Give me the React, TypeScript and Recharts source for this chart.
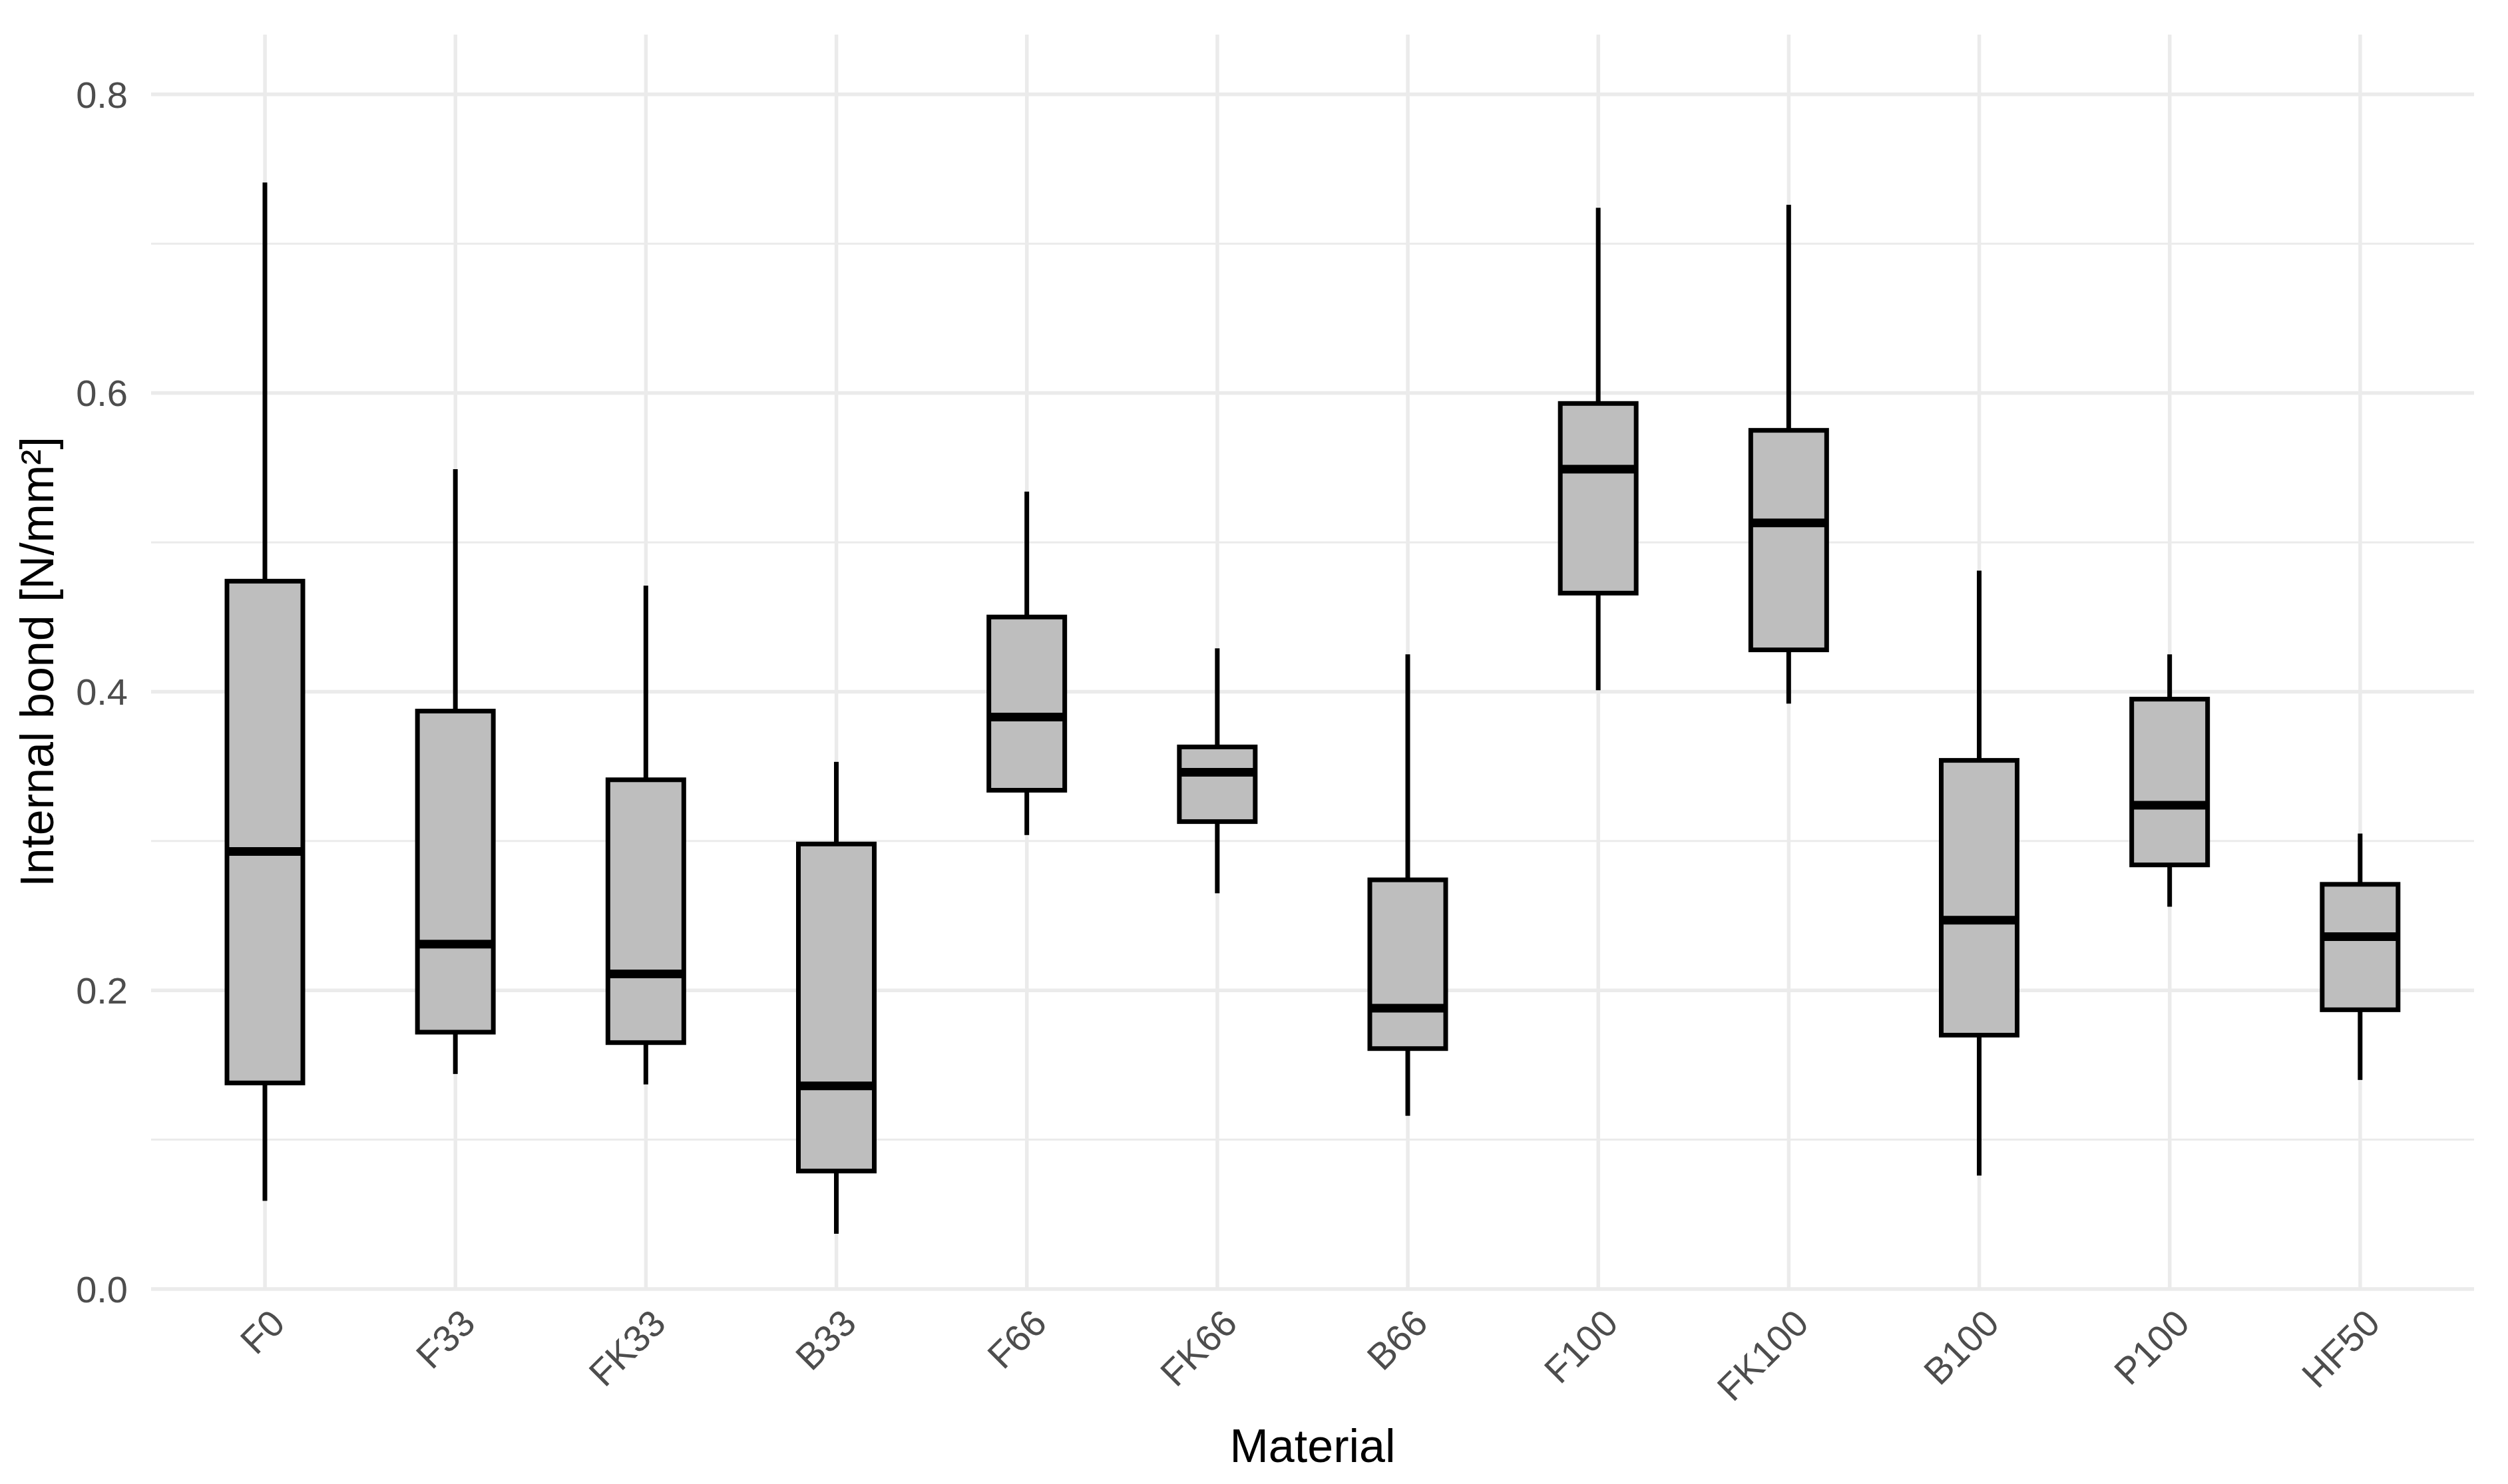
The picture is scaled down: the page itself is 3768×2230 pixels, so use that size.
import React from 'react';
import { ComposedChart, Bar, XAxis, YAxis, CartesianGrid, Label } from 'recharts';

const materials = ['F0', 'F33', 'FK33', 'B33', 'F66', 'FK66', 'B66', 'F100', 'FK100', 'B100', 'P100', 'HF50'];
const whiskerLow = [0.059, 0.144, 0.137, 0.037, 0.304, 0.265, 0.116, 0.401, 0.392, 0.076, 0.256, 0.140];
const q1 = [0.138, 0.172, 0.165, 0.079, 0.334, 0.313, 0.161, 0.466, 0.428, 0.170, 0.284, 0.187];
const median = [0.293, 0.231, 0.211, 0.136, 0.383, 0.346, 0.188, 0.549, 0.513, 0.247, 0.324, 0.236];
const q3 = [0.474, 0.387, 0.341, 0.298, 0.450, 0.363, 0.274, 0.593, 0.575, 0.354, 0.395, 0.271];
const whiskerHigh = [0.741, 0.549, 0.471, 0.353, 0.534, 0.429, 0.425, 0.724, 0.726, 0.481, 0.425, 0.305];
const yTicks = [0, 0.2, 0.4, 0.6, 0.8];
const minorTicks = [0.1, 0.3, 0.5, 0.7];

const data = materials.map((m, i) => ({
  material: m,
  low: whiskerLow[i],
  q1: q1[i],
  median: median[i],
  q3: q3[i],
  high: whiskerHigh[i],
  range: [whiskerLow[i], whiskerHigh[i]],
}));

const FONT = '"Liberation Sans", Arial, Helvetica, sans-serif';

const BoxShape = (props: any) => {
  const { x, y, width, height, payload } = props;
  if (x == null || y == null) return null;
  const top = Math.min(y, y + height);
  const bottom = Math.max(y, y + height);
  const span = payload.high - payload.low;
  const py = (v: number) => bottom - ((v - payload.low) / span) * (bottom - top);
  const cx = x + width / 2;
  const yq3 = py(payload.q3);
  const yq1 = py(payload.q1);
  const ymed = py(payload.median);
  return (
    <g>
      <line x1={cx} x2={cx} y1={top} y2={yq3} stroke="#000" strokeWidth={7} />
      <line x1={cx} x2={cx} y1={yq1} y2={bottom} stroke="#000" strokeWidth={7} />
      <rect x={x} y={yq3} width={width} height={yq1 - yq3} fill="#BEBEBE" stroke="#000" strokeWidth={7} />
      <line x1={x} x2={x + width} y1={ymed} y2={ymed} stroke="#000" strokeWidth={13} />
    </g>
  );
};

const XTick = (props: any) => {
  const { x, y, payload } = props;
  return (
    <text
      x={0}
      y={0}
      transform={`translate(${x + 4},${y + 18}) rotate(-45)`}
      textAnchor="end"
      dominantBaseline="hanging"
      fontSize={56}
      fill="#4D4D4D"
      fontFamily={FONT}
    >
      {payload.value}
    </text>
  );
};

const YTitle = (props: any) => {
  const vb = props.viewBox || { x: 0, y: 0, width: 0, height: 0 };
  const cx = vb.x + 80;
  const cy = vb.y + vb.height / 2;
  return (
    <text x={cx} y={cy} transform={`rotate(-90, ${cx}, ${cy})`} textAnchor="middle" fontSize={70} fill="#000" fontFamily={FONT}>
      Internal bond [N/mm²]
    </text>
  );
};

const XTitle = (props: any) => {
  const vb = props.viewBox || { x: 0, y: 0, width: 0, height: 0 };
  return (
    <text x={vb.x + vb.width / 2} y={vb.y + 260} textAnchor="middle" fontSize={70} fill="#000" fontFamily={FONT}>
      Material
    </text>
  );
};

export default function App() {
  return (
    <div style={{ position: 'absolute', left: 0, top: 0, width: 3768, height: 2230, background: '#fff' }}>
      <ComposedChart width={3768} height={2230} data={data} margin={{ top: 52, right: 51, bottom: 0, left: 0 }}>
        <CartesianGrid stroke="#EBEBEB" strokeWidth={3} vertical={false} horizontalValues={minorTicks} syncWithTicks />
        <CartesianGrid stroke="#EBEBEB" strokeWidth={5.5} syncWithTicks />
        <XAxis
          dataKey="material"
          type="category"
          axisLine={false}
          tickLine={false}
          height={293}
          padding={{ left: 28, right: 28 }}
          tick={<XTick />}
          interval={0}
        >
          <Label content={<XTitle />} />
        </XAxis>
        <YAxis
          type="number"
          domain={[0, 0.84]}
          ticks={yTicks}
          axisLine={false}
          tickLine={false}
          width={227}
          tickMargin={29}
          tickFormatter={(v: number) => v.toFixed(1)}
          tick={{ fontSize: 56, fill: '#4D4D4D', fontFamily: FONT }}
        >
          <Label content={<YTitle />} />
        </YAxis>
        <Bar dataKey="range" barSize={114} shape={<BoxShape />} isAnimationActive={false} />
      </ComposedChart>
    </div>
  );
}
